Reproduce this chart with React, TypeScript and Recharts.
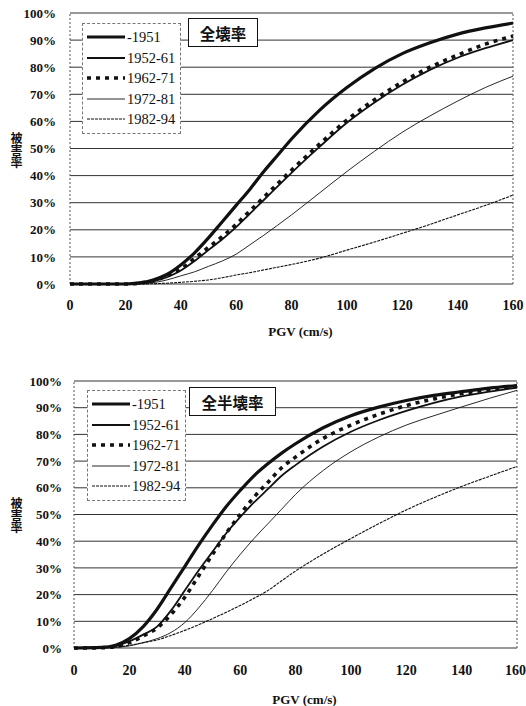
import React from 'react';
import { LineChart, Line, XAxis, YAxis, CartesianGrid, ReferenceLine, Legend } from 'recharts';

// PGV (cm/s) sample points shared by every curve
const pgv = [0, 10, 15, 20, 25, 30, 35, 40, 45, 50, 55, 60, 65, 70, 75, 80, 90, 100, 110, 120, 130, 140, 150, 160];
const seriesNames = ['-1951', '1952-61', '1962-71', '1972-81', '1982-94'];
const xTicks = [0, 20, 40, 60, 80, 100, 120, 140, 160];
const yTicks = [0, 10, 20, 30, 40, 50, 60, 70, 80, 90, 100];

// 全壊率 (%)
const total1951 = [0, 0, 0, 0, 0.4, 1.5, 3.5, 7, 11.5, 17, 23, 29, 35, 41.5, 47.5, 53.5, 64, 72.5, 79.5, 85, 89, 92.2, 94.5, 96.3];
const total1952 = [0, 0, 0, 0, 0.2, 1, 2.5, 5, 8.5, 12.5, 16.5, 21, 26, 31, 36, 41, 50.5, 59.5, 67, 73.5, 79, 83.5, 87, 90];
const total1962 = [0, 0, 0, 0, 0.3, 1.2, 3, 5.5, 9.5, 13.5, 17.5, 22, 27, 32, 37, 42, 51.5, 60.5, 68, 74.5, 80, 84.5, 88.5, 91.5];
const total1972 = [0, 0, 0, 0, 0.1, 0.5, 1.5, 3, 4.5, 6.5, 8.5, 11, 14.5, 18, 21.7, 25.5, 33.5, 41.5, 49, 56, 62, 67.5, 72.5, 76.7];
const total1982 = [0, 0, 0, 0, 0, 0.1, 0.3, 0.6, 1, 1.5, 2.3, 3.3, 4.2, 5.2, 6.2, 7.2, 9.5, 12.5, 15.5, 18.7, 22, 25.5, 29, 32.8];

// 全半壊率 (%)
const half1951 = [0, 0.2, 1, 3.5, 8, 14.5, 22.5, 30.5, 38.5, 46, 53, 59, 64.5, 69, 73, 76.5, 82.5, 87, 90.2, 92.7, 94.6, 96, 97.3, 98.3];
const half1952 = [0, 0.2, 0.7, 2.5, 5, 8, 14, 21.5, 29, 36, 43, 49, 54.5, 59.5, 64.5, 68.5, 75.5, 81, 85.3, 88.8, 91.8, 94.2, 96, 97.5];
const half1962 = [0, 0.1, 0.5, 2, 4.5, 7.5, 12.5, 19, 27, 35, 43, 50, 56.5, 62, 67.5, 71.5, 78.5, 83.5, 87.5, 90.8, 93.3, 95.3, 96.8, 98];
const half1972 = [0, 0, 0.2, 0.8, 2, 3.5, 5.8, 9.5, 15, 21.5, 28.5, 35, 41, 46.5, 52, 57.5, 66.5, 73.5, 79, 83.5, 87, 90.3, 93.5, 96.5];
const half1982 = [0, 0.1, 0.4, 1, 2, 3, 4.7, 6.6, 8.7, 11, 13.4, 15.9, 18.6, 21.5, 25.2, 28.8, 35.2, 41, 46.5, 51.7, 56.3, 60.5, 64.3, 68];

const yTitle = '被害率';

const lineStyles: Record<string, { width: number; dash?: string }> = {
  '-1951': { width: 3.2 },
  '1952-61': { width: 1.8 },
  '1962-71': { width: 3.6, dash: '4 5' },
  '1972-81': { width: 0.9 },
  '1982-94': { width: 1.1, dash: '3 1' },
};

const buildRows = (cols: number[][]) =>
  pgv.map((x, i) => {
    const row: Record<string, number> = { pgv: x };
    seriesNames.forEach((name, k) => {
      row[name] = cols[k][i];
    });
    return row;
  });

const totalRows = buildRows([total1951, total1952, total1962, total1972, total1982]);
const halfRows = buildRows([half1951, half1952, half1962, half1972, half1982]);

const serif = '"Liberation Serif", "Times New Roman", serif';
const cjk = '"Noto Sans CJK JP", "Noto Sans CJK SC", sans-serif';

const LegendBox = ({ payload }: any) => (
  <div style={{ border: '1px dashed #777', background: '#fff', padding: '3px 3px 3px 4px', width: 90, whiteSpace: 'nowrap' }}>
    {(payload || []).map((p: any) => {
      const st = lineStyles[p.value] || { width: 1 };
      return (
        <div key={p.value} style={{ display: 'flex', alignItems: 'center', height: 20.5 }}>
          <svg width={38} height={10} style={{ display: 'block', flex: 'none' }}>
            <line x1={0} y1={5} x2={38} y2={5} stroke="#111" strokeWidth={st.width} strokeDasharray={st.dash} />
          </svg>
          <span style={{ fontFamily: serif, fontSize: 14.5, color: '#111', marginLeft: 2, lineHeight: '16px' }}>{p.value}</span>
        </div>
      );
    })}
  </div>
);

// upright characters written top to bottom, as in the original axis title
const VerticalTitle = ({ left, top }: { left: number; top: number }) => (
  <div style={{
    position: 'absolute', left, top, writingMode: 'vertical-rl', textOrientation: 'upright',
    fontFamily: cjk, fontWeight: 'bold', fontSize: 12, lineHeight: '14px', color: '#111',
  }}>{yTitle}</div>
);

type PanelProps = {
  rows: Record<string, number>[];
  height: number;
  margin: { top: number; right: number; left: number; bottom: number };
  yWidth: number;
  xHeight: number;
  yTickGap: number;
  xTickGap: number;
  labelOffset: number;
  legendPos: { left: number; top: number };
};

const Panel = ({ rows, height, margin, yWidth, xHeight, yTickGap, xTickGap, labelOffset, legendPos }: PanelProps) => (
  <LineChart width={526} height={height} data={rows} margin={margin}>
    <CartesianGrid vertical={false} stroke="#333" strokeWidth={1} />
    <XAxis
      dataKey="pgv"
      type="number"
      domain={[0, 160]}
      ticks={xTicks}
      height={xHeight}
      axisLine={false}
      tickLine={false}
      tickSize={0}
      tickMargin={xTickGap}
      tick={{ fontFamily: serif, fontWeight: 'bold', fontSize: 14, fill: '#111' }}
      label={{ value: 'PGV (cm/s)', position: 'insideBottom', offset: labelOffset, dx: 9, fontFamily: serif, fontWeight: 'bold', fontSize: 13, fill: '#111' }}
    />
    <YAxis
      type="number"
      domain={[0, 100]}
      ticks={yTicks}
      width={yWidth}
      axisLine={false}
      tickLine={false}
      tickSize={0}
      tickMargin={yTickGap}
      tickFormatter={(v: number) => `${v}%`}
      tick={{ fontFamily: serif, fontWeight: 'bold', fontSize: 13, fill: '#111' }}
    />
    <ReferenceLine x={0} stroke="#555" strokeDasharray="2 2" />
    <ReferenceLine x={160} stroke="#555" strokeDasharray="2 2" />
    {seriesNames.map((name) => (
      <Line
        key={name}
        type="monotone"
        dataKey={name}
        name={name}
        stroke="#111"
        strokeWidth={lineStyles[name].width}
        strokeDasharray={lineStyles[name].dash}
        dot={false}
        activeDot={false}
        isAnimationActive={false}
      />
    ))}
    <Legend
      layout="horizontal"
      verticalAlign="middle"
      align="center"
      content={<LegendBox />}
      wrapperStyle={{ position: 'absolute', left: legendPos.left, top: legendPos.top, width: 'auto', height: 'auto' }}
    />
  </LineChart>
);

const TitleBox = ({ text, left, top, width }: { text: string; left: number; top: number; width: number }) => (
  <div style={{
    position: 'absolute', left, top, width, height: 29, boxSizing: 'border-box',
    border: '1.5px solid #111', background: '#fff', display: 'flex', alignItems: 'center', justifyContent: 'center',
    fontFamily: cjk, fontWeight: 'bold', fontSize: 15.5, color: '#111', zIndex: 2,
  }}>{text}</div>
);

export default function App() {
  return (
    <div style={{ position: 'absolute', left: 0, top: 0, width: 526, height: 706, background: '#fff', overflow: 'hidden' }}>
      <div style={{ position: 'absolute', left: 0, top: 0 }}>
        <Panel
          rows={totalRows}
          height={345}
          margin={{ top: 13, right: 13, left: 0, bottom: 0 }}
          yWidth={70}
          xHeight={61}
          yTickGap={14}
          xTickGap={16}
          labelOffset={9}
          legendPos={{ left: 82, top: 23 }}
        />
        <TitleBox text="全壊率" left={188} top={18} width={70} />
        <VerticalTitle left={9} top={132} />
      </div>
      <div style={{ position: 'absolute', left: 0, top: 365 }}>
        <Panel
          rows={halfRows}
          height={341}
          margin={{ top: 16, right: 9, left: 0, bottom: 0 }}
          yWidth={74}
          xHeight={58}
          yTickGap={12}
          xTickGap={17}
          labelOffset={2}
          legendPos={{ left: 87, top: 25 }}
        />
        <TitleBox text="全半壊率" left={189} top={22} width={87} />
        <VerticalTitle left={9} top={132} />
      </div>
    </div>
  );
}
